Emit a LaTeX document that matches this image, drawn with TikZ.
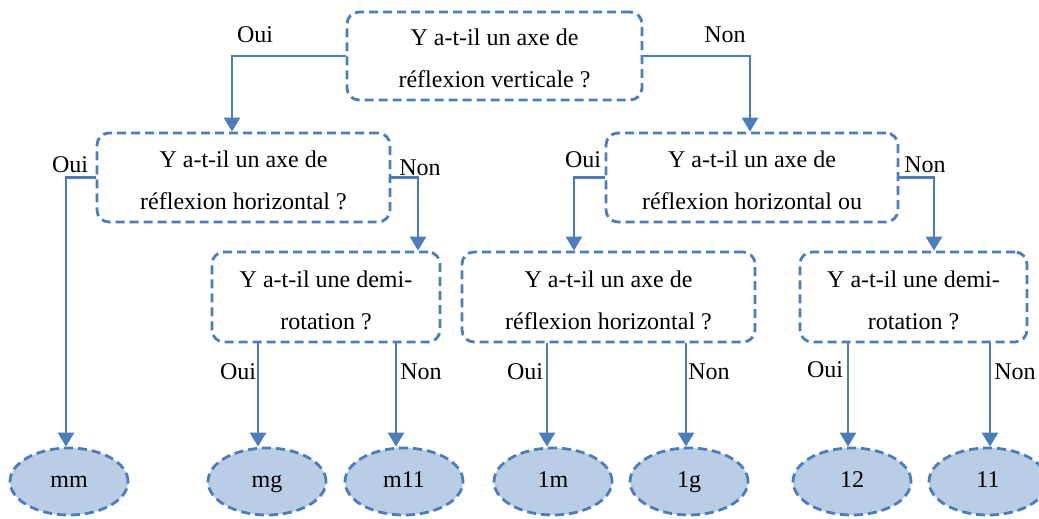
\documentclass[tikz,border=0pt]{standalone}
\usepackage{fontspec}
\setmainfont{Liberation Serif}
\usetikzlibrary{arrows.meta,shapes.geometric,calc}
\definecolor{bl}{RGB}{74,126,187}
\definecolor{fl}{RGB}{185,205,229}
\begin{document}
\begin{tikzpicture}[x=0.5pt,y=-0.5pt,
  qbox/.style={draw=bl, line width=1.4pt, dash pattern=on 4.5pt off 2.5pt, rounded corners=6pt, inner sep=0pt},
  leaf/.style={ellipse, draw=bl, fill=fl, line width=1.4pt, dash pattern=on 4.5pt off 2.5pt, minimum width=59pt, minimum height=33.5pt, inner sep=0pt, text height=6.5pt, text depth=0.5pt, font=\fontsize{12}{14}\selectfont},
  qtxt/.style={anchor=base, inner sep=0pt, font=\fontsize{12}{14}\selectfont},
  lbl/.style={inner sep=0pt, font=\fontsize{12}{14}\selectfont},
  arr/.style={draw=bl, line width=1.4pt, -{Triangle[width=8pt,length=7pt]}}]
\useasboundingbox (0,0) rectangle (1039,519);

% question boxes
\node[qbox, minimum width=147.5pt, minimum height=44pt] (q1) at (494.5,56) {};
\node[qbox, minimum width=146.5pt, minimum height=44.5pt] (q2) at (243.5,177.5) {};
\node[qbox, minimum width=114pt, minimum height=45pt] (q3) at (326,297) {};
\node[qbox, minimum width=146pt, minimum height=44.5pt] (q4) at (752,177.5) {};
\node[qbox, minimum width=146.5pt, minimum height=45pt] (q5) at (608.5,297) {};
\node[qbox, minimum width=113.5pt, minimum height=45pt] (q6) at (913.5,297) {};

% box texts (second line cut by the box frame)
\begin{scope}
\clip (q1.north west) rectangle ($(q1.south east)+(0,-13)$);
\node[qtxt] (q1a) at ($(q1.north)+(0,35)$) {Y a-t-il un axe de};
\node[qtxt] (q1b) at ($(q1.north)+(0,77)$) {réflexion verticale ?};
\end{scope}
\begin{scope}
\clip (q2.north west) rectangle ($(q2.south east)+(0,-12)$);
\node[qtxt] (q2a) at ($(q2.north)+(0,36)$) {Y a-t-il un axe de};
\node[qtxt] (q2b) at ($(q2.north)+(0,78)$) {réflexion horizontal ?};
\end{scope}
\begin{scope}
\clip (q3.north west) rectangle ($(q3.south east)+(0,-12)$);
\node[qtxt] (q3a) at ($(q3.north)+(0,37)$) {Y a-t-il une demi-};
\node[qtxt] (q3b) at ($(q3.north)+(0,79)$) {rotation ?};
\end{scope}
\begin{scope}
\clip (q4.north west) rectangle ($(q4.south east)+(0,-12)$);
\node[qtxt] (q4a) at ($(q4.north)+(0,36)$) {Y a-t-il un axe de};
\node[qtxt] (q4b) at ($(q4.north)+(0,78)$) {réflexion horizontal ou};
\end{scope}
\begin{scope}
\clip (q5.north west) rectangle ($(q5.south east)+(0,-12)$);
\node[qtxt] (q5a) at ($(q5.north)+(0,37)$) {Y a-t-il un axe de};
\node[qtxt] (q5b) at ($(q5.north)+(0,79)$) {réflexion horizontal ?};
\end{scope}
\begin{scope}
\clip (q6.north west) rectangle ($(q6.south east)+(0,-12)$);
\node[qtxt] (q6a) at ($(q6.north)+(0,37)$) {Y a-t-il une demi-};
\node[qtxt] (q6b) at ($(q6.north)+(0,79)$) {rotation ?};
\end{scope}

% leaves
\node[leaf] (mm)  at (69,481.5)  {mm};
\node[leaf] (mg)  at (267,481.5) {mg};
\node[leaf] (m11) at (404,481.5) {m11};
\node[leaf] (r1m) at (553,481.5) {1m};
\node[leaf] (r1g) at (689,481.5) {1g};
\node[leaf] (r12) at (852,481.5) {12};
\node[leaf] (r11) at (988,481.5) {11};

% connectors
\draw[arr] (q1.west) -| ($(q2.north)+(-11.5,0)$);
\draw[arr] (q1.east) -| ($(q4.north)+(-2,0)$);
\draw[arr] (q2.west) -| ($(mm.north)+(-3,0)$);
\draw[arr] (q2.east) -| ($(q3.north)+(92,0)$);
\draw[arr] (q4.west) -| ($(q5.north)+(-34.5,0)$);
\draw[arr] (q4.east) -| ($(q6.north)+(20.5,0)$);

\coordinate (e1) at ($(mg.north)+(-9,0)$);
\coordinate (e2) at ($(m11.north)+(-8,0)$);
\coordinate (e3) at ($(r1m.north)+(-6,0)$);
\coordinate (e4) at ($(r1g.north)+(-3,0)$);
\coordinate (e5) at ($(r12.north)+(-4,0)$);
\coordinate (e6) at ($(r11.north)+(2,0)$);
\draw[arr] (e1 |- q3.south) -- (e1);
\draw[arr] (e2 |- q3.south) -- (e2);
\draw[arr] (e3 |- q5.south) -- (e3);
\draw[arr] (e4 |- q5.south) -- (e4);
\draw[arr] (e5 |- q6.south) -- (e5);
\draw[arr] (e6 |- q6.south) -- (e6);

% labels
\node[lbl] (l1)  at (255,35)  {Oui};
\node[lbl] (l2)  at (725,35)  {Non};
\node[lbl] (l3)  at (70,165)  {Oui};
\node[lbl] (l4)  at (420,168) {Non};
\node[lbl] (l5)  at (583,160) {Oui};
\node[lbl] (l6)  at (925,165) {Non};
\node[lbl] (l7)  at (238,372) {Oui};
\node[lbl] (l8)  at (421,372) {Non};
\node[lbl] (l9)  at (525,372) {Oui};
\node[lbl] (l10) at (709,372) {Non};
\node[lbl] (l11) at (825,370) {Oui};
\node[lbl] (l12) at (1015,372) {Non};
\end{tikzpicture}
\end{document}
